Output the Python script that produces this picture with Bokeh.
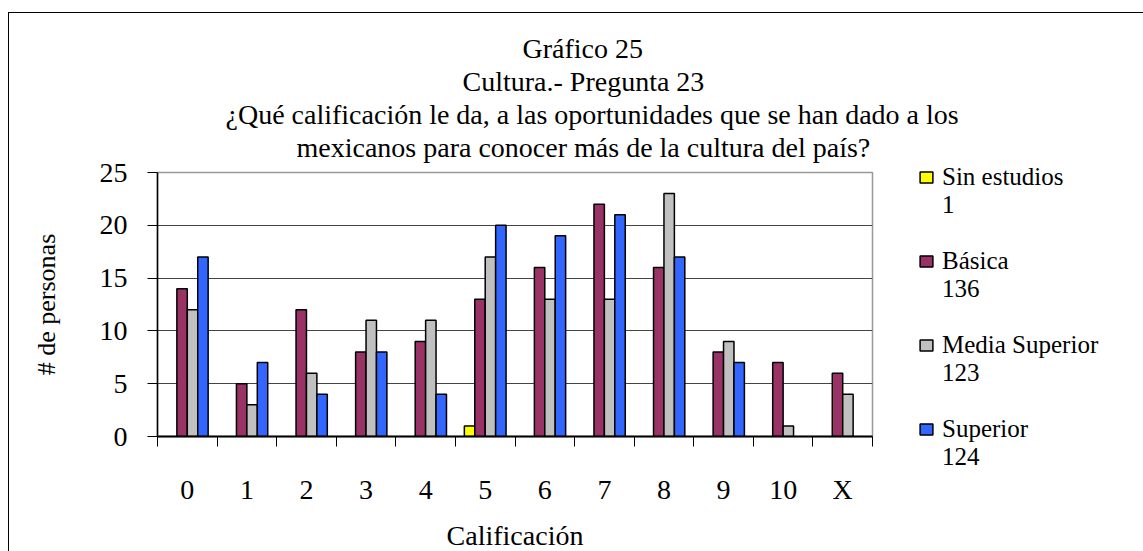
from bokeh.plotting import figure
from bokeh.models import (Range1d, FixedTicker, LinearAxis, Legend, LegendItem,
                          Title, Grid, InlineStyleSheet)
from bokeh.embed import file_html
from bokeh.resources import INLINE

# ---- data ----
categories = ["0", "1", "2", "3", "4", "5", "6", "7", "8", "9", "10", "X"]
series_names = ["Sin estudios", "Básica", "Media Superior", "Superior"]
sin_estudios = [0, 0, 0, 0, 0, 1, 0, 0, 0, 0, 0, 0]
basica = [14, 5, 12, 8, 9, 13, 16, 22, 16, 8, 7, 6]
media_superior = [12, 3, 6, 11, 11, 17, 13, 13, 23, 9, 1, 4]
superior = [17, 7, 4, 8, 4, 20, 19, 21, 17, 7, 0, 0]
series_colors = ["#FFFF00", "#993366", "#C0C0C0", "#3366FF"]
y_ticks = [0, 5, 10, 15, 20, 25]
title_lines = [
    "Gráfico 25",
    "Cultura.- Pregunta 23",
    "¿Qué calificación le da, a las oportunidades que se han dado a los",
    "mexicanos para conocer más de la cultura del país?",
]
# left offsets of each title line from the plot frame (centres the block on the page)
title_offsets = [365, 305, 68, 139]
x_label = "Calificación"
y_label = "# de personas"

FONT = "Liberation Serif"
n = len(categories)
bar_w = 0.175

p = figure(frame_width=715, frame_height=264, x_range=Range1d(0, n),
           y_range=Range1d(0, 25), x_axis_type=None, y_axis_type=None,
           output_backend="svg", toolbar_location=None,
           min_border_left=157, min_border_right=271,
           min_border_top=172, min_border_bottom=115)
p.outline_line_color = "#999999"
p.outline_line_width = 1.5
p.background_fill_color = "white"
p.border_fill_color = "white"
p.stylesheets = [InlineStyleSheet(css="""
:host { position: relative; }
:host::after {
  content: ""; position: absolute; left: 8px; top: 12px; right: 0; bottom: 0;
  border-left: 1px solid black; border-top: 1px solid black;
  pointer-events: none; z-index: 10;
}
""")]

# ---- axes ----
yaxis = LinearAxis(ticker=FixedTicker(ticks=y_ticks, minor_ticks=[]))
yaxis.axis_line_color = "black"
yaxis.axis_line_width = 1.5
yaxis.major_tick_out = 10
yaxis.major_tick_in = 0
yaxis.major_tick_line_color = "black"
yaxis.major_label_standoff = 20
yaxis.major_label_text_font = FONT
yaxis.major_label_text_font_size = "28px"
yaxis.major_label_text_color = "black"
yaxis.axis_label = y_label
yaxis.axis_label_text_font = FONT
yaxis.axis_label_text_font_size = "26px"
yaxis.axis_label_text_font_style = "normal"
yaxis.axis_label_text_color = "black"
yaxis.axis_label_standoff = 36
p.add_layout(yaxis, "left")

centers = [i + 0.5 for i in range(n)]
xaxis = LinearAxis(ticker=FixedTicker(ticks=centers, minor_ticks=list(range(n + 1))),
                   major_label_overrides={c: lab for c, lab in zip(centers, categories)})
xaxis.axis_line_color = "black"
xaxis.axis_line_width = 2
xaxis.major_tick_line_color = None
xaxis.major_tick_out = 0
xaxis.major_tick_in = 0
xaxis.minor_tick_line_color = "black"
xaxis.minor_tick_out = 10
xaxis.minor_tick_in = 0
xaxis.major_label_standoff = 27
xaxis.major_label_text_font = FONT
xaxis.major_label_text_font_size = "28px"
xaxis.major_label_text_color = "black"
xaxis.axis_label = x_label
xaxis.axis_label_text_font = FONT
xaxis.axis_label_text_font_size = "28px"
xaxis.axis_label_text_font_style = "normal"
xaxis.axis_label_text_color = "black"
xaxis.axis_label_standoff = 12
p.add_layout(xaxis, "below")

p.add_layout(Grid(dimension=1, ticker=yaxis.ticker, grid_line_color="#444444",
                  grid_line_width=1))

# ---- bars ----
all_series = [sin_estudios, basica, media_superior, superior]
# invisible helper renderer so the totals get a line of their own under each name
blank = p.vbar(x=[], top=[], width=bar_w, fill_alpha=0, line_alpha=0)
items = []
for k, (name, vals, color) in enumerate(zip(series_names, all_series, series_colors)):
    xs = [i + 0.5 + (k - 1.5) * bar_w for i, v in enumerate(vals) if v > 0]
    tops = [v for v in vals if v > 0]
    r = p.vbar(x=xs, top=tops, bottom=0, width=bar_w, fill_color=color,
               line_color="black", line_width=1.5)
    items.append(LegendItem(label=name, renderers=[r]))
    items.append(LegendItem(label=f"{sum(vals)}\n\u00a0", renderers=[blank]))

legend = Legend(items=items, location=(46, -63), ncols=1, label_text_font=FONT,
                label_text_font_size="25px", label_text_color="black",
                label_text_line_height=1.1,
                glyph_width=16, glyph_height=14, label_standoff=8, spacing=0,
                padding=0, margin=0, border_line_color=None,
                background_fill_alpha=0)
p.add_layout(legend, "right")

# ---- title (added nearest-first) ----
p.add_layout(Title(text=" ", text_font_size="1px", standoff=7), "above")
for i in reversed(range(len(title_lines))):
    p.add_layout(Title(text=title_lines[i], align="left", offset=title_offsets[i],
                       standoff=0, vertical_align="bottom",
                       text_font=FONT, text_font_size="28px",
                       text_font_style="normal", text_color="black"), "above")

open("out.html", "w").write(file_html(p, INLINE))
